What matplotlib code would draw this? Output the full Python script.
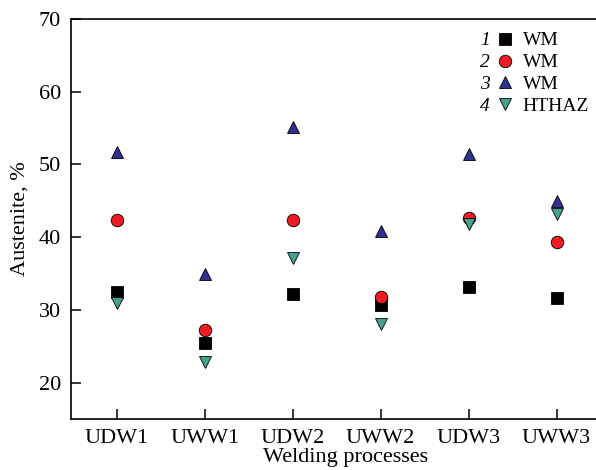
import numpy as np
import matplotlib
matplotlib.use('Agg')
import matplotlib.pyplot as plt

plt.rcParams['font.family'] = 'Liberation Serif'

processes = ['UDW1', 'UWW1', 'UDW2', 'UWW2', 'UDW3', 'UWW3']
wm1 = [32.4, 25.4, 32.2, 30.7, 33.2, 31.6]
wm2 = [42.3, 27.2, 42.3, 31.8, 42.6, 39.4]
wm3 = [51.7, 35.0, 55.2, 40.8, 51.5, 45.0]
hthaz = [31.0, 22.8, 37.1, 28.1, 41.8, 43.2]

x = np.arange(len(processes))

fig = plt.figure(figsize=(5.96, 4.70), dpi=100)
ax = fig.add_axes([0.119, 0.1085, 0.921, 0.851])

ms = 9
ax.plot(x, wm1, 's', color='black', mec='black', mew=0.6, ms=ms - 0.5, label='WM')
ax.plot(x, wm2, 'o', color='#ed1c24', mec='black', mew=0.6, ms=ms, label='WM')
ax.plot(x, wm3, '^', color='#2e3192', mec='black', mew=0.6, ms=ms, label='WM')
ax.plot(x, hthaz, 'v', color='#45a08e', mec='black', mew=0.6, ms=ms, label='HTHAZ')

ax.set_xlim(-0.52, 5.72)
ax.set_ylim(15, 70)
ax.set_xticks(x)
ax.set_xticklabels(processes)
ax.set_yticks([20, 30, 40, 50, 60, 70])
ax.tick_params(direction='in', length=7, width=1.1, labelsize=16, pad=7)
for s in ax.spines.values():
    s.set_linewidth(1.2)
ax.spines['right'].set_visible(False)

ax.set_xlabel('Welding processes', fontsize=16, labelpad=0)
ax.set_ylabel('Austenite, %', fontsize=16, labelpad=7)

leg = ax.legend(loc='upper left', bbox_to_anchor=(0.770, 0.968), frameon=False,
                fontsize=14, handletextpad=0.3, labelspacing=0.22,
                handlelength=1.2, borderaxespad=0, borderpad=0)

# italic series numbers in front of the legend entries
fig.canvas.draw()
for i, t in enumerate(leg.get_texts()):
    bb = t.get_window_extent()
    fig.text(485 / 596, (bb.y0 + bb.y1) / 2 / (fig.dpi * 4.70), str(i + 1),
             fontsize=14, style='italic', ha='center', va='center')

fig.savefig('out.png', dpi=100)
